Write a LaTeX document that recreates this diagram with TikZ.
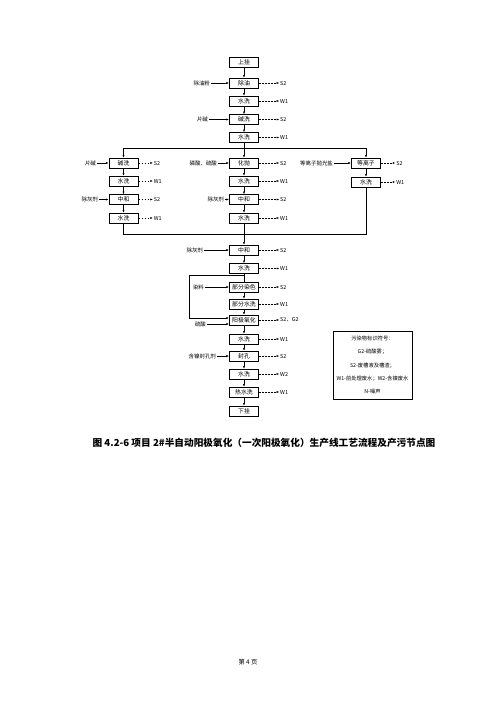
\documentclass[tikz,border=0pt]{standalone}
\usepackage{fontspec}
\setmainfont{Noto Sans CJK SC}
\usetikzlibrary{arrows.meta,positioning,calc}

\begin{document}
\begin{tikzpicture}[x=1.19pt,y=-1.19pt,line width=0.5pt,>={Latex[length=3pt,width=2.4pt]},
  proc/.style={draw,line width=0.7pt,minimum width=35pt,minimum height=12pt,inner sep=1pt,font=\fontsize{7}{8}\selectfont},
  feed/.style={anchor=east,inner sep=1pt,font=\fontsize{6.5}{7}\selectfont},
  emit/.style={inner sep=1pt,font=\fontsize{6.5}{7}\selectfont},
  dashto/.style={->,dash pattern=on 2pt off 1.6pt}]
\useasboundingbox (0,0) rectangle (500,707);
% main line, top part
\node[proc] (s0) at (244,62) {上挂};
\node[proc] (s1) at (244,83) {除油};
\node[proc] (s2) at (244,101) {水洗};
\node[proc] (s3) at (244,119.5) {碱洗};
\node[proc] (s4) at (244,137.5) {水洗};
% three branches
\node[proc] (a1) at (123.5,163) {碱洗};
\node[proc] (a2) at (123.5,181) {水洗};
\node[proc] (a3) at (123.5,199.5) {中和};
\node[proc] (a4) at (123.5,218) {水洗};
\node[proc] (b1) at (244,163) {化抛};
\node[proc] (b2) at (244,181) {水洗};
\node[proc] (b3) at (244,199.5) {中和};
\node[proc] (b4) at (244,218) {水洗};
\node[proc] (c1) at (366,163) {等离子};
\node[proc] (c2) at (366,182) {水洗};
% main line, lower part
\node[proc] (d1) at (244,250) {中和};
\node[proc] (d2) at (244,268.5) {水洗};
\node[proc] (d3) at (244,287) {部分染色};
\node[proc] (d4) at (244,304) {部分水洗};
\node[proc] (d5) at (244,320) {阳极氧化};
\node[proc] (d6) at (244,339) {水洗};
\node[proc] (d7) at (244,356) {封孔};
\node[proc] (d8) at (244,374) {水洗};
\node[proc] (d9) at (244,392) {热水洗};
\node[proc] (d10) at (244,411) {下挂};

\foreach \u/\v in {s0/s1,s1/s2,s2/s3,s3/s4,a1/a2,a2/a3,a3/a4,b1/b2,b2/b3,b3/b4,c1/c2,
  d1/d2,d3/d4,d4/d5,d5/d6,d6/d7,d7/d8,d8/d9,d9/d10}
  \draw[->] (\u) -- (\v);

% split and merge
\coordinate (sp) at (244,148);
\coordinate (spL) at (123.5,148);
\coordinate (spR) at (366,148);
\draw (s4) -- (sp);
\draw (spL) -- (spR);
\draw[->] (spL) -- (a1);
\draw[->] (sp) -- (b1);
\draw[->] (spR) -- (c1);
\coordinate (mg) at (244,234);
\coordinate (mgL) at (123.5,234);
\coordinate (mgR) at (366,234);
\draw (a4) -- (mgL) -- (mgR) -- (c2);
\draw (b4) -- (mg);
\draw[->] (mg) -- (d1);

% bypass round the dyeing
\coordinate (lp) at (244,275);
\coordinate (lpA) at (189,275);
\coordinate (lpB) at (189,318);
\draw (d2) -- (d3);
\draw[->] (lp) -- (lpA) -- (lpB) -- (d5.west |- lpB);

% inputs
\node[feed] (f1) at (211,83) {除油粉};
\node[feed] (f2) at (209,119.5) {片碱};
\node[feed] (f3) at (97,163) {片碱};
\node[feed] (f4) at (99,199.5) {除灰剂};
\node[feed] (f5) at (218,163) {磷酸、硫酸};
\node[feed] (f6) at (225,199.5) {除灰剂};
\node[feed] (f7) at (334,163) {等离子抛光盐};
\node[feed] (f8) at (204,250) {除灰剂};
\node[feed] (f9) at (205,287) {染料};
\node[feed] (f10) at (207,324) {硫酸};
\node[feed] (f11) at (217,356) {含镍封孔剂};
\foreach \f/\b in {f1/s1,f2/s3,f3/a1,f4/a3,f5/b1,f6/b3,f7/c1,f8/d1,f9/d3,f11/d7}
  \draw[->] (\f) -- (\b);
\draw[->] (f10) -- (f10 -| d5.west);

% outputs
\foreach \b/\t in {s1/S2,s2/W1,s3/S2,s4/W1,b1/S2,b2/W1,b3/S2,b4/W1,
  d1/S2,d2/W1,d3/S2,d4/W1,d5/{S2、G2},d6/W1,d7/S2,d8/W2,d9/W1}
  {\node[emit,right=24pt of \b] (\b-o) {\t};
   \draw[dashto] (\b) -- (\b-o);}
\foreach \b/\t in {a1/S2,a2/W1,a3/S2,a4/W1,c1/S2,c2/W1}
  {\node[emit,right=17pt of \b] (\b-o) {\t};
   \draw[dashto] (\b) -- (\b-o);}

% legend
\node[draw,line width=0.7pt,minimum width=94pt,minimum height=81pt,align=center,
  font=\fontsize{6.3}{16}\selectfont] (key) at (372.5,365)
  {污染物标识符号：\\G2-硫酸雾；\\S2-废槽液及槽渣；\\W1-前处理废水；W2-含镍废水\\N-噪声};

\node[font=\fontsize{11.5}{13}\selectfont\bfseries] (cap) at (264,443)
  {图 4.2-6 项目 2\#半自动阳极氧化（一次阳极氧化）生产线工艺流程及产污节点图};
\node[font=\fontsize{7.5}{9}\selectfont] (pg) at (248,662) {第 4 页};
\end{tikzpicture}
\end{document}
